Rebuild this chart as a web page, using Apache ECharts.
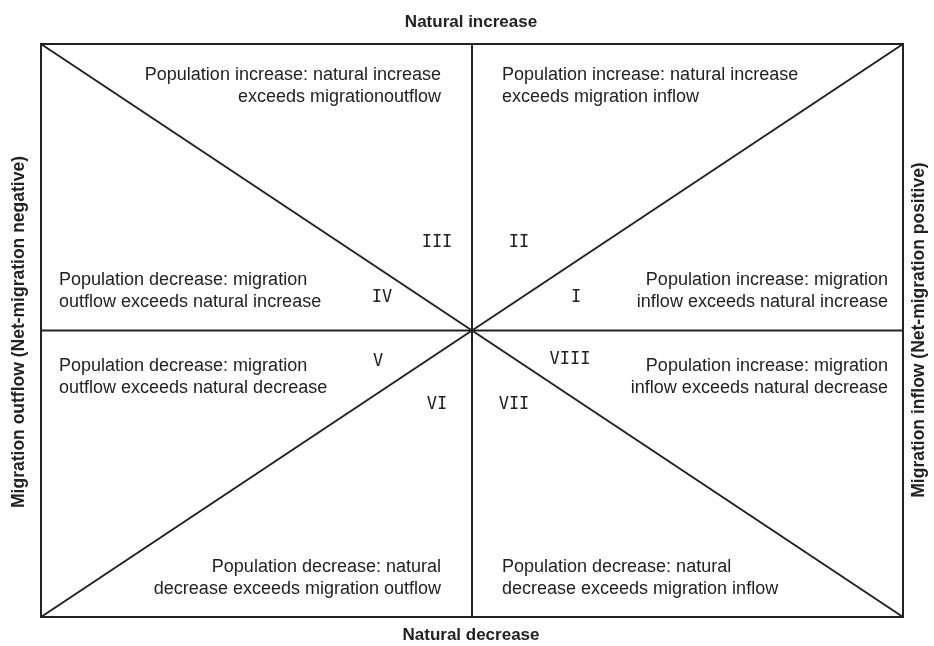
<!DOCTYPE html>
<html>
<head>
<meta charset="utf-8">
<script src="https://cdn.jsdelivr.net/npm/echarts@6/dist/echarts.min.js"></script>
<style>
  html, body { margin: 0; padding: 0; background: #fff; }
  #chart { width: 934px; height: 646px; }
</style>
</head>
<body>
<div id="chart"></div>
<script>
// axis extent of the diagram (both axes run -1 .. 1)
const axisMin = -1;
const axisMax = 1;

// dividing lines of the diagram
const vLine = [[0, -1], [0, 1]];
const hLine = [[-1, 0], [1, 0]];
const diagDown = [[-1, 1], [1, -1]];
const diagUp = [[-1, -1], [1, 1]];

// edge titles
const topTitle = 'Natural increase';
const bottomTitle = 'Natural decrease';
const leftTitle = 'Migration outflow (Net-migration negative)';
const rightTitle = 'Migration inflow (Net-migration positive)';

// sector descriptions
const sectorTexts = [
  'Population increase: natural increase\nexceeds migrationoutflow',
  'Population increase: natural increase\nexceeds migration inflow',
  'Population decrease: migration\noutflow exceeds natural increase',
  'Population increase: migration\ninflow exceeds natural increase',
  'Population decrease: migration\noutflow exceeds natural decrease',
  'Population increase: migration\ninflow exceeds natural decrease',
  'Population decrease: natural\ndecrease exceeds migration outflow',
  'Population decrease: natural\ndecrease exceeds migration inflow'
];

// sector numerals
const numerals = ['III', 'II', 'IV', 'I', 'V', 'VIII', 'VI', 'VII'];

const ink = '#222';
const textFont = '18px "Liberation Sans", Arial, sans-serif';
const numeralFont = '17px "DejaVu Sans Mono", monospace';
const titleFont = 'bold 17px "Liberation Sans", Arial, sans-serif';
const sideFont = 'bold 17.5px "Liberation Sans", Arial, sans-serif';

// where each text block sits (pixel layout only)
const sectorLayout = [
  { x: 441, y: 64, align: 'right' },
  { x: 502, y: 64, align: 'left' },
  { x: 59, y: 269, align: 'left' },
  { x: 888, y: 269, align: 'right' },
  { x: 59, y: 355, align: 'left' },
  { x: 888, y: 355, align: 'right' },
  { x: 441, y: 556, align: 'right' },
  { x: 502, y: 556, align: 'left' }
];
const numeralLayout = [
  [437, 243], [519, 243], [382, 298], [576, 298],
  [378, 362], [570, 360], [437, 405], [514, 405]
];

let chart = echarts.init(document.getElementById('chart'));

function lineSeries(data) {
  return {
    type: 'line',
    data: data,
    symbol: 'none',
    silent: true,
    lineStyle: { color: ink, width: 2 },
    z: 3
  };
}

let graphics = [];
graphics.push({
  type: 'text', x: 471, y: 22,
  style: { text: topTitle, font: titleFont, fill: ink, align: 'center', verticalAlign: 'middle' }
});
graphics.push({
  type: 'text', x: 471, y: 635,
  style: { text: bottomTitle, font: titleFont, fill: ink, align: 'center', verticalAlign: 'middle' }
});
graphics.push({
  type: 'text', x: 19, y: 332, rotation: Math.PI / 2,
  style: { text: leftTitle, font: sideFont, fill: ink, align: 'center', verticalAlign: 'middle' }
});
graphics.push({
  type: 'text', x: 919, y: 330, rotation: Math.PI / 2,
  style: { text: rightTitle, font: sideFont, fill: ink, align: 'center', verticalAlign: 'middle' }
});
sectorTexts.forEach(function (t, i) {
  let p = sectorLayout[i];
  graphics.push({
    type: 'text', x: p.x, y: p.y,
    style: { text: t, font: textFont, fill: ink, align: p.align, verticalAlign: 'top', lineHeight: 22 }
  });
});
numerals.forEach(function (n, i) {
  let p = numeralLayout[i];
  graphics.push({
    type: 'text', x: p[0], y: p[1],
    style: { text: n, font: numeralFont, fill: ink, align: 'center', verticalAlign: 'middle' }
  });
});

let option = {
  animation: false,
  backgroundColor: '#fff',
  grid: {
    left: 41, right: 31, top: 44, bottom: 29,
    show: true, borderColor: ink, borderWidth: 2, backgroundColor: 'transparent'
  },
  xAxis: {
    type: 'value', min: axisMin, max: axisMax, show: false
  },
  yAxis: {
    type: 'value', min: axisMin, max: axisMax, show: false
  },
  series: [
    lineSeries(vLine),
    lineSeries(hLine),
    lineSeries(diagDown),
    lineSeries(diagUp)
  ],
  graphic: graphics
};

chart.setOption(option);
</script>
</body>
</html>
